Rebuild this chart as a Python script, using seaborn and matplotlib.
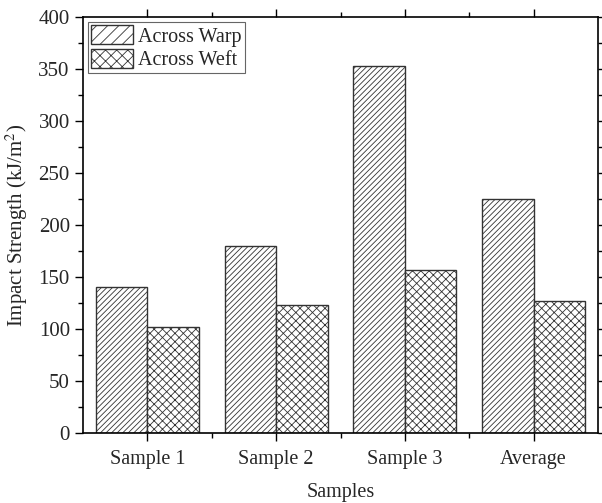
import pandas as pd
import seaborn as sns
from matplotlib import pyplot as plt
from matplotlib.patches import Patch
from matplotlib.ticker import MultipleLocator, FixedLocator

samples = ['Sample 1', 'Sample 2', 'Sample 3', 'Average']
across_warp = [140, 180, 353, 225]
across_weft = [102, 123, 157, 127]

df = pd.DataFrame({
    'Samples': samples * 2,
    'Impact': across_warp + across_weft,
    'Direction': ['Across Warp'] * 4 + ['Across Weft'] * 4,
})

sns.set_style('ticks')
plt.rcParams['font.family'] = ['Liberation Serif', 'DejaVu Serif']
plt.rcParams['mathtext.fontset'] = 'stix'
plt.rcParams['hatch.linewidth'] = 0.6
plt.rcParams['hatch.color'] = '#222222'

fig, ax = plt.subplots(figsize=(6.02, 5.03), dpi=100)
fig.subplots_adjust(left=83/602, right=598/602, top=1-17/503, bottom=1-433/503)

sns.barplot(data=df, x='Samples', y='Impact', hue='Direction', ax=ax,
            width=0.8, palette=['white', 'white'],
            edgecolor='#333333', linewidth=1.0, legend=False)

hatches = ['//////', 'xxxx']
for cont, h in zip(ax.containers, hatches):
    for bar in cont:
        bar.set_hatch(h)

ax.set_ylim(0, 400)
ax.set_xlim(-0.5, 3.5)
ax.yaxis.set_major_locator(MultipleLocator(50))
ax.yaxis.set_minor_locator(MultipleLocator(25))
ax.xaxis.set_minor_locator(FixedLocator([0.5, 1.5, 2.5]))

ax.tick_params(axis='both', which='both', direction='out', top=True, right=True,
               color='black')
ax.tick_params(axis='y', labelsize=15)
ax.tick_params(axis='x', labelsize=14.5, pad=6)
ax.tick_params(which='major', length=6, width=1)
ax.tick_params(which='minor', length=3.5, width=1)
for s in ax.spines.values():
    s.set_visible(True)
    s.set_linewidth(1.2)
    s.set_color('black')

ax.set_xlabel('Samples', fontsize=14.5, labelpad=10)
ax.set_ylabel('Impact Strength (kJ/m$^2$)', fontsize=15, labelpad=6)

handles = [Patch(facecolor='white', edgecolor='#333333', hatch=h, label=l)
           for h, l in zip(['///', 'xxx'], ['Across Warp', 'Across Weft'])]
leg = ax.legend(handles=handles, loc='upper left', fontsize=14.5, fancybox=False,
                edgecolor='#666666', framealpha=1, handlelength=2.1, handleheight=1.1,
                labelspacing=0.1, borderpad=0.15, handletextpad=0.25,
                borderaxespad=0.25)
leg.get_frame().set_linewidth(0.8)

plt.savefig('out.png', dpi=100)
